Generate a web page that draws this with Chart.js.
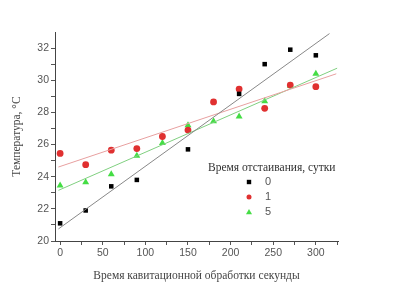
<html lang="ru">
<head>
    <meta charset="UTF-8">
    <title>Температура</title>
    <script src="https://cdn.jsdelivr.net/npm/chart.js@4.4.0/dist/chart.umd.min.js"></script>
    <style>
        body { margin: 0; background: #fff; }
    </style>
</head>
<body>
    <canvas id="myChart" width="395" height="290"></canvas>

    <script>
        // время обработки, с
        const times = [0, 30, 60, 90, 120, 150, 180, 210, 240, 270, 300];
        // температура по времени отстаивания
        const temp0 = [21.1, 21.9, 23.4, 23.8, null, 25.7, null, 29.15, 31.0, 31.9, 31.55];
        const temp1 = [25.45, 24.75, 25.65, 25.75, 26.5, 26.9, 28.65, 29.45, 28.25, 29.7, 29.6];
        const temp5 = [23.45, 23.65, 24.15, 25.3, 26.1, 27.2, 27.45, 27.75, 28.7, 29.65, 30.4];
        // линии аппроксимации (концы)
        const fitX0 = [-2, 316];
        const fit0 = [20.75, 32.9];
        const fitX1 = [-2, 324];
        const fit1 = [24.6, 30.4];
        const fitX5 = [-2, 325];
        const fit5 = [23.15, 30.75];
        const seriesNames = ['0', '1', '5'];
        const legendTitle = 'Время отстаивания, сутки';

        function pts(xs, ys) {
            return xs.map((x, i) => ({ x: x, y: ys[i] })).filter(p => p.y !== null);
        }

        const legendPlugin = {
            id: 'insideLegend',
            afterDraw(chart) {
                const ctx = chart.ctx;
                ctx.save();
                ctx.fillStyle = '#333';
                ctx.font = '11.5px "Liberation Serif"';
                ctx.textBaseline = 'middle';
                ctx.fillText(legendTitle, 208, 168);
                ctx.font = '11px "Liberation Sans"';
                chart.data.datasets.filter(d => d.inLegend).forEach((d, i) => {
                    const y = 182 + i * 15;
                    const x = 249;
                    ctx.fillStyle = d.backgroundColor;
                    if (d.pointStyle === 'rect') {
                        ctx.fillRect(x - 2.2, y - 2.2, 4.4, 4.4);
                    } else if (d.pointStyle === 'circle') {
                        ctx.beginPath();
                        ctx.arc(x, y, 2.5, 0, Math.PI * 2);
                        ctx.fill();
                    } else {
                        ctx.beginPath();
                        ctx.moveTo(x, y - 3);
                        ctx.lineTo(x + 3, y + 2.2);
                        ctx.lineTo(x - 3, y + 2.2);
                        ctx.closePath();
                        ctx.fill();
                    }
                    ctx.fillStyle = '#555';
                    ctx.fillText(d.label, 265, y);
                });
                ctx.restore();
            }
        };

        let myChart = document.getElementById('myChart').getContext('2d');

        let tempChart = new Chart(myChart, {
            type: 'scatter',
            data: {
                datasets: [
                    { data: pts(fitX0, fit0), showLine: true, borderColor: '#888', borderWidth: 1, pointRadius: 0 },
                    { data: pts(fitX1, fit1), showLine: true, borderColor: '#e8a0a0', borderWidth: 1, pointRadius: 0 },
                    { data: pts(fitX5, fit5), showLine: true, borderColor: '#80d080', borderWidth: 1, pointRadius: 0 },
                    {
                        label: seriesNames[0], inLegend: true, data: pts(times, temp0),
                        pointStyle: 'rect', pointRadius: 3.2, backgroundColor: '#000', borderColor: '#000', borderWidth: 0
                    },
                    {
                        label: seriesNames[1], inLegend: true, data: pts(times, temp1),
                        pointStyle: 'circle', pointRadius: 3.4, backgroundColor: '#e03030', borderColor: '#e03030', borderWidth: 0
                    },
                    {
                        label: seriesNames[2], inLegend: true, data: pts(times, temp5),
                        pointStyle: 'triangle', pointRadius: 4, backgroundColor: '#44dd44', borderColor: '#44dd44', borderWidth: 0
                    }
                ]
            },
            options: {
                responsive: false,
                animation: false,
                layout: { padding: { top: 32, right: 57, left: 10, bottom: 7 } },
                plugins: { legend: { display: false }, tooltip: { enabled: false } },
                scales: {
                    x: {
                        type: 'linear', min: -6, max: 326,
                        afterBuildTicks(scale) {
                            const t = [];
                            for (let v = 0; v <= 325; v += 25) t.push({ value: v });
                            scale.ticks = t;
                        },
                        afterFit(scale) { scale.height = 42; },
                        ticks: {
                            color: '#555', font: { family: 'Liberation Sans', size: 10.5 },
                            maxRotation: 0, autoSkip: false, padding: 2,
                            callback: v => (v % 50 === 0 ? v : '')
                        },
                        grid: { drawOnChartArea: false, tickLength: 4, color: '#555' },
                        border: { color: '#444', width: 1 },
                        title: {
                            display: true, text: 'Время кавитационной обработки секунды',
                            color: '#444', font: { family: 'Liberation Serif', size: 11.5 }, padding: { top: 2, bottom: 0 }
                        }
                    },
                    y: {
                        min: 20, max: 33,
                        afterBuildTicks(scale) {
                            const t = [];
                            for (let v = 20; v <= 32; v += 1) t.push({ value: v });
                            scale.ticks = t;
                        },
                        afterFit(scale) { scale.width = 45; },
                        ticks: {
                            color: '#555', font: { family: 'Liberation Sans', size: 10.5 }, padding: 2,
                            callback: v => (v % 2 === 0 ? v : '')
                        },
                        grid: { drawOnChartArea: false, tickLength: 4, color: '#555' },
                        border: { color: '#444', width: 1 },
                        title: {
                            display: true, text: 'Температура, °C',
                            color: '#444', font: { family: 'Liberation Serif', size: 11.5 }, padding: { top: 0, bottom: 4 }
                        }
                    }
                }
            },
            plugins: [legendPlugin]
        });
    </script>
</body>
</html>
